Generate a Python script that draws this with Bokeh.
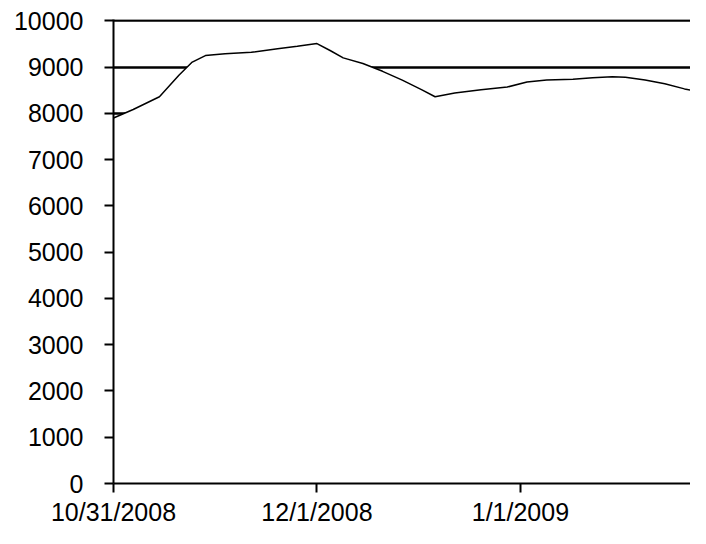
from datetime import datetime, timedelta
from bokeh.plotting import figure
from bokeh.models import Range1d, FixedTicker, CustomJSTickFormatter, ColumnDataSource
from bokeh.embed import file_html
from bokeh.resources import INLINE

# Data
day_offsets = [0, 3, 7, 10, 12, 14, 17, 21, 25, 28, 31, 33, 35, 38, 41, 44, 47, 49,
               52, 56, 60, 63, 66, 70, 73, 76, 78, 81, 84, 87, 90]
values = [7900, 8085, 8360, 8830, 9110, 9250, 9290, 9320, 9400, 9450, 9510, 9360,
          9200, 9080, 8910, 8720, 8510, 8360, 8440, 8510, 8570, 8680, 8720, 8740,
          8770, 8790, 8780, 8720, 8640, 8530, 8450]
tick_dates = ["2008-10-31", "2008-12-01", "2009-01-01"]

start = datetime(2008, 10, 31)
dates = [start + timedelta(days=d) for d in day_offsets]
zeros = [0] * len(values)
src = ColumnDataSource(dict(x=dates, y=values, y0=zeros))

def ms(d):
    return (d - datetime(1970, 1, 1)).total_seconds() * 1000.0

p = figure(width=690, height=528, x_axis_type="datetime",
           output_backend="svg", toolbar_location=None,
           x_range=Range1d(ms(start), ms(datetime(2009, 1, 26, 22))),
           y_range=Range1d(0, 10030),
           min_border_left=113, min_border_right=0, min_border_top=19,
           min_border_bottom=38)
p.outline_line_color = None
p.background_fill_color = "white"
p.border_fill_color = "white"

p.xgrid.grid_line_color = None
p.ygrid.grid_line_color = "black"
p.ygrid.grid_line_width = 2.5
p.ygrid.level = "underlay"

# area (white fill hides grid lines below the curve) + line
p.varea(x="x", y1="y0", y2="y", source=src, fill_color="white", fill_alpha=1.0,
        level="glyph")
p.line(x="x", y="y", source=src, line_color="black", line_width=1.5)

p.yaxis.ticker = FixedTicker(ticks=list(range(0, 10001, 1000)))
p.xaxis.ticker = FixedTicker(ticks=[ms(datetime.strptime(t, "%Y-%m-%d")) for t in tick_dates])
p.xaxis.formatter = CustomJSTickFormatter(code="""
const d = new Date(tick);
return (d.getUTCMonth()+1) + '/' + d.getUTCDate() + '/' + d.getUTCFullYear();
""")

for ax in (p.xaxis[0], p.yaxis[0]):
    ax.axis_line_color = "black"
    ax.axis_line_width = 2
    ax.major_tick_line_color = "black"
    ax.major_tick_line_width = 2
    ax.major_tick_out = 9
    ax.major_tick_in = 0
    ax.minor_tick_line_color = None
    ax.major_label_text_font = "Liberation Sans"
    ax.major_label_text_color = "black"
    ax.major_label_text_font_size = "25px"

p.yaxis.major_label_standoff = 21
p.xaxis.major_label_standoff = 5

open("out.html", "w").write(file_html(p, INLINE))
